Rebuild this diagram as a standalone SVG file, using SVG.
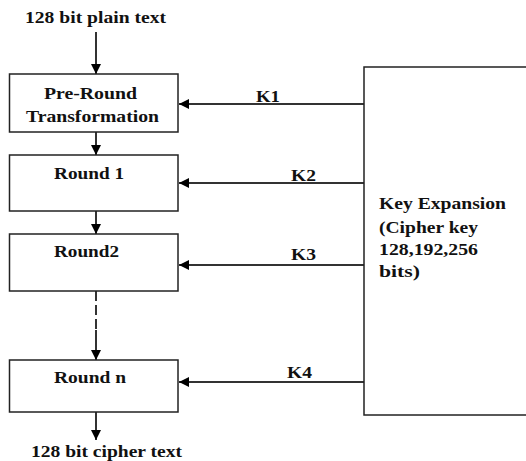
<svg xmlns="http://www.w3.org/2000/svg" width="526" height="461" viewBox="0 0 526 461">
<style>
.box{fill:#fff;stroke:#222;stroke-width:1.5}
.ln{stroke:#333;stroke-width:2;fill:none}
.t{font-family:'Liberation Serif','DejaVu Serif',serif;font-weight:700;font-size:17px;fill:#111}
</style>
<defs>
<marker id="ah" viewBox="0 0 10 10" refX="10" refY="5" markerWidth="10" markerHeight="10" markerUnits="userSpaceOnUse" orient="auto">
<path d="M0,0 L10,5 L0,10 Z" fill="#000"/>
</marker>
</defs>
<rect width="526" height="461" fill="#fff"/>
<g id="connectors">
<line class="ln" x1="96" y1="32" x2="96" y2="74" marker-end="url(#ah)"/>
<line class="ln" x1="96" y1="132" x2="96" y2="155" marker-end="url(#ah)"/>
<line class="ln" x1="96" y1="211" x2="96" y2="234" marker-end="url(#ah)"/>
<line class="ln" x1="96" y1="291" x2="96" y2="330" stroke-dasharray="10,4" stroke-width="1.5"/>
<line class="ln" x1="96" y1="330" x2="96" y2="360" marker-end="url(#ah)"/>
<line class="ln" x1="96" y1="412" x2="96" y2="440" marker-end="url(#ah)"/>
<line class="ln" x1="364" y1="104" x2="179" y2="104" marker-end="url(#ah)"/>
<line class="ln" x1="364" y1="183" x2="179" y2="183" marker-end="url(#ah)"/>
<line class="ln" x1="364" y1="265" x2="179" y2="265" marker-end="url(#ah)"/>
<line class="ln" x1="364" y1="382" x2="179" y2="382" marker-end="url(#ah)"/>
<text class="t" x="256" y="102" textLength="24" lengthAdjust="spacingAndGlyphs">K1</text>
<text class="t" x="291" y="181" textLength="25" lengthAdjust="spacingAndGlyphs">K2</text>
<text class="t" x="291" y="260" textLength="25" lengthAdjust="spacingAndGlyphs">K3</text>
<text class="t" x="287" y="378" textLength="25" lengthAdjust="spacingAndGlyphs">K4</text>
</g>
<g id="plain">
<text class="t" x="25" y="23" textLength="141" lengthAdjust="spacingAndGlyphs">128 bit plain text</text>
</g>
<g id="preround">
<rect class="box" x="9.5" y="74" width="168.5" height="58"/>
<text class="t" x="44" y="99" textLength="93" lengthAdjust="spacingAndGlyphs">Pre-Round</text>
<text class="t" x="26" y="122" textLength="133" lengthAdjust="spacingAndGlyphs">Transformation</text>
</g>
<g id="round1">
<rect class="box" x="9.5" y="155" width="168.5" height="56"/>
<text class="t" x="54" y="179" textLength="70" lengthAdjust="spacingAndGlyphs">Round 1</text>
</g>
<g id="round2">
<rect class="box" x="9.5" y="234" width="168.5" height="57"/>
<text class="t" x="54" y="257" textLength="65" lengthAdjust="spacingAndGlyphs">Round2</text>
</g>
<g id="roundn">
<rect class="box" x="9.5" y="360" width="168.5" height="52"/>
<text class="t" x="54" y="383" textLength="72" lengthAdjust="spacingAndGlyphs">Round n</text>
</g>
<g id="cipher">
<text class="t" x="31" y="457" textLength="151" lengthAdjust="spacingAndGlyphs">128 bit cipher text</text>
</g>
<g id="keyexp">
<rect class="box" x="364" y="67" width="170" height="348"/>
<text class="t" x="379" y="209" textLength="127" lengthAdjust="spacingAndGlyphs">Key Expansion</text>
<text class="t" x="379" y="233" textLength="99" lengthAdjust="spacingAndGlyphs">(Cipher key</text>
<text class="t" x="379" y="255" textLength="99" lengthAdjust="spacingAndGlyphs">128,192,256</text>
<text class="t" x="379" y="277" textLength="41" lengthAdjust="spacingAndGlyphs">bits)</text>
</g>
</svg>
